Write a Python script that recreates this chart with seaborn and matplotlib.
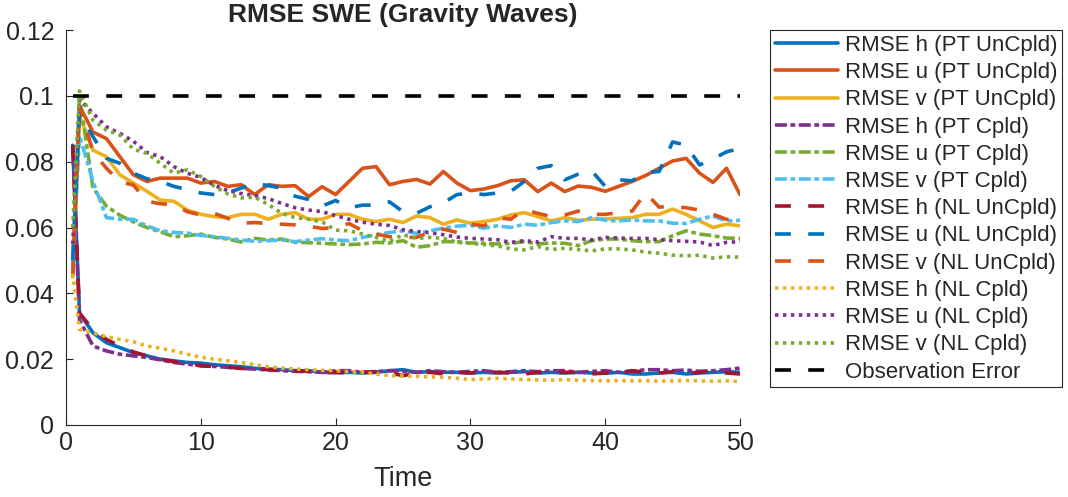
import numpy as np
import pandas as pd
import matplotlib
matplotlib.use("Agg")
import matplotlib.pyplot as plt
import seaborn as sns

sns.set_theme(style="ticks")
plt.rcParams['font.family'] = ['Liberation Sans', 'DejaVu Sans']

# ---------------- data ----------------
t = np.r_[0.5, np.arange(1, 51)]

h_pt_unc = [0.085, 0.034, 0.028, 0.025, 0.0235, 0.022, 0.021, 0.020, 0.0195, 0.019, 0.0188,
            0.0183, 0.018, 0.0177, 0.0172, 0.017, 0.0168, 0.0165, 0.0165, 0.016, 0.0159,
            0.016, 0.0158, 0.016, 0.0165, 0.0168, 0.016, 0.0162, 0.016, 0.016, 0.0158,
            0.016, 0.0158, 0.016, 0.0162, 0.0158, 0.016, 0.0158, 0.016, 0.0158, 0.0157,
            0.016, 0.0155, 0.0155, 0.0158, 0.016, 0.0155, 0.0158, 0.016, 0.0162, 0.016]
u_pt_unc = [0.050, 0.097, 0.089, 0.087, 0.0815, 0.076, 0.074, 0.075, 0.075, 0.075, 0.0735,
            0.074, 0.0725, 0.073, 0.070, 0.073, 0.0725, 0.0727, 0.0694, 0.0724, 0.070,
            0.074, 0.078, 0.0785, 0.073, 0.074, 0.0746, 0.0732, 0.077, 0.0735, 0.0712,
            0.0717, 0.0727, 0.0742, 0.0745, 0.0709, 0.0735, 0.0709, 0.0726, 0.0722, 0.071,
            0.0725, 0.074, 0.0758, 0.078, 0.0802, 0.081, 0.0765, 0.0737, 0.078, 0.070]
v_pt_unc = [0.045, 0.094, 0.0835, 0.0815, 0.076, 0.0735, 0.071, 0.0683, 0.068, 0.0653, 0.064,
            0.0633, 0.063, 0.064, 0.064, 0.0625, 0.064, 0.0645, 0.0625, 0.0625, 0.064,
            0.064, 0.0625, 0.0618, 0.0625, 0.0615, 0.0635, 0.063, 0.061, 0.0623, 0.0613,
            0.0618, 0.0625, 0.0638, 0.0645, 0.0633, 0.062, 0.063, 0.0622, 0.0625, 0.0626,
            0.0628, 0.063, 0.064, 0.064, 0.0656, 0.064, 0.062, 0.060, 0.061, 0.0605]
h_pt_cpl = [0.085, 0.032, 0.024, 0.0225, 0.0215, 0.021, 0.0205, 0.0198, 0.019, 0.0185, 0.018,
            0.0178, 0.0175, 0.0172, 0.017, 0.0168, 0.0165, 0.0163, 0.0162, 0.016, 0.0165,
            0.0165, 0.016, 0.0162, 0.0165, 0.0163, 0.016, 0.0165, 0.0162, 0.016, 0.0163,
            0.0165, 0.016, 0.0162, 0.0165, 0.0162, 0.0165, 0.0165, 0.016, 0.0163, 0.0165,
            0.016, 0.0163, 0.0168, 0.0168, 0.0165, 0.0167, 0.0163, 0.0165, 0.0168, 0.0173]
u_pt_cpl = [0.045, 0.100, 0.072, 0.0665, 0.0637, 0.0617, 0.060, 0.0587, 0.0572, 0.0575, 0.058,
            0.057, 0.0565, 0.0556, 0.0567, 0.0562, 0.0565, 0.0555, 0.0554, 0.0552, 0.055,
            0.0548, 0.055, 0.0555, 0.0553, 0.056, 0.054, 0.0545, 0.0557, 0.0557, 0.0553,
            0.0552, 0.055, 0.0552, 0.0557, 0.055, 0.0553, 0.0552, 0.0545, 0.056, 0.0565,
            0.0565, 0.056, 0.0557, 0.0557, 0.0575, 0.059, 0.058, 0.0575, 0.0568, 0.0567]
v_pt_cpl = [0.048, 0.088, 0.074, 0.063, 0.0625, 0.0625, 0.0605, 0.059, 0.0585, 0.0583, 0.0576,
            0.0572, 0.0567, 0.0562, 0.0558, 0.056, 0.0562, 0.0557, 0.0562, 0.0566, 0.0562,
            0.056, 0.057, 0.0578, 0.0585, 0.059, 0.0582, 0.059, 0.0598, 0.0604, 0.0607,
            0.0598, 0.0605, 0.060, 0.061, 0.0607, 0.0615, 0.062, 0.0618, 0.063, 0.0622,
            0.062, 0.0623, 0.062, 0.062, 0.0613, 0.0612, 0.0625, 0.0635, 0.062, 0.0622]
h_nl_unc = [0.085, 0.034, 0.029, 0.026, 0.024, 0.0222, 0.021, 0.020, 0.0192, 0.0188, 0.018,
            0.0178, 0.0176, 0.0172, 0.017, 0.0168, 0.0165, 0.0165, 0.0163, 0.016, 0.016,
            0.0158, 0.016, 0.0162, 0.0158, 0.015, 0.0158, 0.016, 0.0155, 0.016, 0.0158,
            0.016, 0.016, 0.0158, 0.0155, 0.016, 0.0158, 0.016, 0.016, 0.0155, 0.0158,
            0.016, 0.0165, 0.016, 0.0158, 0.0162, 0.0158, 0.016, 0.0165, 0.0158, 0.0155]
u_nl_unc = [0.050, 0.0947, 0.0876, 0.081, 0.0795, 0.0765, 0.0748, 0.074, 0.0725, 0.0715, 0.0705,
            0.070, 0.0705, 0.072, 0.0735, 0.0727, 0.072, 0.0695, 0.0685, 0.0665, 0.0682,
            0.066, 0.0668, 0.0668, 0.0678, 0.0648, 0.0643, 0.0663, 0.0675, 0.070, 0.0705,
            0.070, 0.0705, 0.071, 0.074, 0.078, 0.0788, 0.0745, 0.0762, 0.0772, 0.0725,
            0.0745, 0.0742, 0.0767, 0.077, 0.086, 0.085, 0.079, 0.0808, 0.083, 0.084]
v_nl_unc = [0.045, 0.097, 0.083, 0.078, 0.0739, 0.0729, 0.068, 0.0672, 0.067, 0.0648, 0.0638,
            0.0643, 0.0628, 0.0613, 0.0615, 0.0612, 0.061, 0.0608, 0.0604, 0.0597, 0.060,
            0.0612, 0.059, 0.058, 0.0572, 0.057, 0.057, 0.0585, 0.0595, 0.0585, 0.061,
            0.0605, 0.063, 0.0625, 0.0655, 0.0643, 0.0633, 0.0638, 0.065, 0.064, 0.064,
            0.0645, 0.065, 0.0705, 0.0662, 0.0664, 0.066, 0.0653, 0.064, 0.0625, 0.062]
h_nl_cpl = [0.046, 0.029, 0.028, 0.0268, 0.026, 0.0253, 0.024, 0.0233, 0.0225, 0.0215, 0.0206,
            0.020, 0.0195, 0.019, 0.0183, 0.0177, 0.0173, 0.017, 0.0168, 0.0166, 0.0165,
            0.0162, 0.016, 0.0155, 0.015, 0.0149, 0.0148, 0.0146, 0.0145, 0.0142, 0.0138,
            0.014, 0.0142, 0.014, 0.0138, 0.0137, 0.0136, 0.0138, 0.0136, 0.0135, 0.0134,
            0.0135, 0.0134, 0.0135, 0.0133, 0.0134, 0.0135, 0.0134, 0.0133, 0.0134, 0.0132]
u_nl_cpl = [0.055, 0.099, 0.0947, 0.0906, 0.0886, 0.0862, 0.0828, 0.0815, 0.0785, 0.0765, 0.0752,
            0.0728, 0.0712, 0.0703, 0.0697, 0.0688, 0.0673, 0.066, 0.0653, 0.0648, 0.0636,
            0.0625, 0.0616, 0.061, 0.0606, 0.0593, 0.0588, 0.0584, 0.0578, 0.0571, 0.0567,
            0.0565, 0.0563, 0.0555, 0.056, 0.0556, 0.0572, 0.0567, 0.0567, 0.0562, 0.057,
            0.0568, 0.0567, 0.0567, 0.0563, 0.056, 0.0558, 0.0556, 0.0545, 0.0555, 0.0557]
v_nl_cpl = [0.060, 0.1015, 0.0926, 0.0896, 0.0881, 0.0838, 0.0825, 0.0795, 0.0765, 0.0775, 0.0755,
            0.0725, 0.0702, 0.069, 0.0692, 0.067, 0.0643, 0.063, 0.0625, 0.0617, 0.0592,
            0.059, 0.058, 0.057, 0.0558, 0.0578, 0.0567, 0.057, 0.0567, 0.0555, 0.0552,
            0.0548, 0.0544, 0.0535, 0.0532, 0.0542, 0.0533, 0.0537, 0.0533, 0.0529, 0.0535,
            0.0535, 0.0532, 0.0525, 0.0522, 0.0516, 0.0514, 0.0516, 0.0507, 0.0511, 0.051]

t_obs = [0.5, 50]
obs_error = [0.1, 0.1]

labels = ["RMSE h (PT UnCpld)", "RMSE u (PT UnCpld)", "RMSE v (PT UnCpld)",
          "RMSE h (PT Cpld)", "RMSE u (PT Cpld)", "RMSE v (PT Cpld)",
          "RMSE h (NL UnCpld)", "RMSE u (NL UnCpld)", "RMSE v (NL UnCpld)",
          "RMSE h (NL Cpld)", "RMSE u (NL Cpld)", "RMSE v (NL Cpld)",
          "Observation Error"]

xticks = [0, 10, 20, 30, 40, 50]
yticks = [0, 0.02, 0.04, 0.06, 0.08, 0.1, 0.12]
ytick_labels = ["0", "0.02", "0.04", "0.06", "0.08", "0.1", "0.12"]

# ---------------- styling ----------------
colors = ['#0072BD', '#D95319', '#EDB120',
          '#7E2F8E', '#77AC30', '#4DBEEE',
          '#A2142F', '#0072BD', '#D95319',
          '#EDB120', '#7E2F8E', '#77AC30',
          '#000000']
solid = ""
dashdot = (3.3, 1.0, 1.3, 1.0)
dashed = (4.4, 4.8)
dotted = (0.95, 1.25)
styles = [solid] * 3 + [dashdot] * 3 + [dashed] * 3 + [dotted] * 3 + [dashed]

series_vals = [h_pt_unc, u_pt_unc, v_pt_unc, h_pt_cpl, u_pt_cpl, v_pt_cpl,
               h_nl_unc, u_nl_unc, v_nl_unc, h_nl_cpl, u_nl_cpl, v_nl_cpl]

frames = []
for lab, vals in zip(labels[:12], series_vals):
    assert len(vals) == len(t), lab
    frames.append(pd.DataFrame({"Time": t, "RMSE": vals, "series": lab}))
frames.append(pd.DataFrame({"Time": t_obs, "RMSE": obs_error, "series": labels[12]}))
df = pd.concat(frames, ignore_index=True)

palette = dict(zip(labels, colors))
dashes = dict(zip(labels, styles))

fig = plt.figure(figsize=(10.68, 4.97), dpi=100)
ax = fig.add_axes([66 / 1068, 1 - 425 / 497, (740 - 66) / 1068, 395 / 497])

sns.lineplot(data=df, x="Time", y="RMSE", hue="series", style="series",
             hue_order=labels, style_order=labels, palette=palette, dashes=dashes,
             linewidth=2.6, errorbar=None, legend=False, ax=ax)

ax.set_xlim(0, 50)
ax.set_ylim(0, 0.12)
ax.set_xticks(xticks)
ax.set_xticklabels([str(x) for x in xticks])
ax.set_yticks(yticks)
ax.set_yticklabels(ytick_labels)

for s in ["top", "right"]:
    ax.spines[s].set_visible(False)
for s in ["left", "bottom"]:
    ax.spines[s].set_color("#262626")
    ax.spines[s].set_linewidth(0.8)

ax.tick_params(axis="both", direction="in", length=5, width=0.8, colors="#262626",
               labelsize=18, left=True, bottom=True)
ax.tick_params(axis="x", pad=4.5)
ax.tick_params(axis="y", pad=8.5)

ax.set_title("RMSE SWE (Gravity Waves)", fontsize=19, fontweight="bold", pad=6)
ax.set_xlabel("Time", fontsize=19.5, color="#262626")
ax.xaxis.set_label_coords(0.5, -0.103)
ax.set_ylabel("")

handles = ax.get_lines()[:13]
leg = fig.legend(handles, labels, loc="upper left",
                 bbox_to_anchor=(770 / 1068, 1 - 30 / 497),
                 bbox_transform=fig.transFigure, borderaxespad=0,
                 fontsize=16, handlelength=2.85, handletextpad=0.3,
                 labelspacing=0.28, borderpad=0.22, fancybox=False,
                 frameon=True, edgecolor="#262626", framealpha=1)
leg.get_frame().set_linewidth(0.8)

fig.savefig("out.png", dpi=100)
